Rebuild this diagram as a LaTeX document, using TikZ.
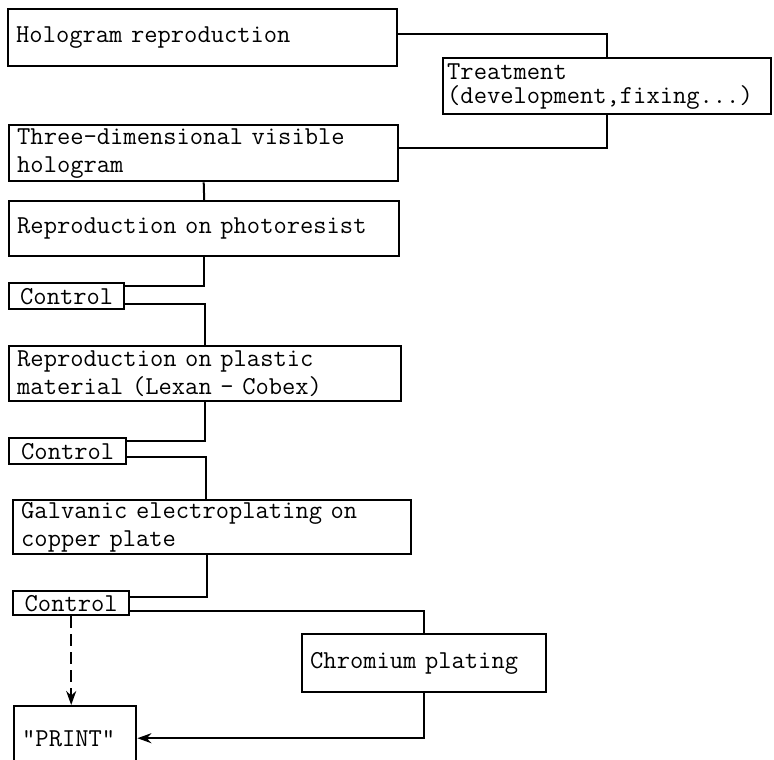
\documentclass[tikz,border=0pt]{standalone}
\usepackage{fontspec}
\usetikzlibrary{arrows.meta}
\tikzset{>={Stealth[length=7pt, width=5pt]}}
\newcommand{\typefont}[1]{\ttfamily\fontsize{12.9}{#1}\selectfont\spaceskip=6.77pt\relax}
\tikzset{
  stage/.style={draw, line width=1.2pt, anchor=north west, align=left,
    inner xsep=4pt, inner ysep=0pt, font=\typefont{14}},
  check/.style={stage, align=center},
  link/.style={line width=1pt}
}

\begin{document}
\begin{tikzpicture}[x=0.5pt, y=-0.5pt]
    \fill[white] (0,0) rectangle (774,759);
    \useasboundingbox (0,0) rectangle (774,759);
    % process boxes
    \node[stage, text width=186.5pt, minimum height=28.5pt] (holo) at (7,8) {Hologram reproduction};
    \node[stage, inner xsep=2pt, text width=160pt, minimum height=28pt,
      font=\typefont{12}] (treat) at (442,57) {Treatment\\(development,fixing...)};
    \node[stage, text width=186.5pt, minimum height=28pt] (three) at (8,124) {Three-dimensional visible\\hologram};
    \node[stage, text width=187pt, minimum height=27.5pt] (photo) at (8,200) {Reproduction on photoresist};
    \node[check, text width=49.5pt, minimum height=13pt] (ctrl1) at (8,282) {Control};
    \node[stage, text width=188pt, minimum height=27.5pt] (plastic) at (8,345) {Reproduction on plastic\\material (Lexan - Cobex)};
    \node[check, text width=50.5pt, minimum height=13pt] (ctrl2) at (8,437) {Control};
    \node[stage, text width=191pt, minimum height=27pt] (galv) at (12,499) {Galvanic electroplating on\\copper plate};
    \node[check, text width=50pt, minimum height=12pt] (ctrl3) at (12,590) {Control};
    \node[stage, text width=114pt, minimum height=29pt] (chrom) at (301,633) {Chromium plating};
    \node[stage, text width=53pt, minimum height=32pt] (print) at (13,705) {"PRINT"};
    % connectors
    \draw[link] ([yshift=2pt]holo.east) -| (treat.north);
    \draw[link] (treat.south) |- ([yshift=2.5pt]three.east);
    \draw[link] (three.south) -- (photo.north);
    \draw[link] (photo.south) |- ([yshift=5pt]ctrl1.east);
    \draw[link] ([yshift=-4pt]ctrl1.east) -| (plastic.north);
    \draw[link] (plastic.south) |- ([yshift=5pt]ctrl2.east);
    \draw[link] ([yshift=-3pt]ctrl2.east) -| ([xshift=-3pt]galv.north);
    \draw[link] ([xshift=-2.5pt]galv.south) |- ([yshift=3pt]ctrl3.east);
    \draw[link] ([yshift=-3.75pt]ctrl3.east) -| (chrom.north);
    \draw[link, ->] (chrom.south) |- (print.east);
    \draw[link, ->, dash pattern=on 6pt off 3pt] (ctrl3.south) -- (ctrl3.south |- print.north);
\end{tikzpicture}
\end{document}
